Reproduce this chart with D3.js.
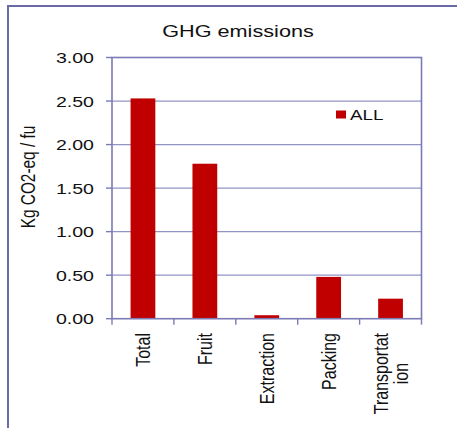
<!DOCTYPE html>
<html>
<head>
<meta charset="utf-8">
<script src="https://cdn.jsdelivr.net/npm/d3@7/dist/d3.min.js"></script>
<style>
  html, body { margin: 0; padding: 0; background: #fff; }
  svg { display: block; font-family: "Liberation Sans", Arial, sans-serif; }
</style>
</head>
<body>
<svg id="chart" width="457" height="428"></svg>
<script>
// GHG emissions per functional unit, by life-cycle stage
const categories = ["Total", "Fruit", "Extraction", "Packing", "Transportation"];
const categoryLines = [["Total"], ["Fruit"], ["Extraction"], ["Packing"], ["Transportat", "ion"]];
const valuesAll = [2.53, 1.78, 0.04, 0.48, 0.23];
const yTicks = [0, 0.5, 1.0, 1.5, 2.0, 2.5, 3.0];
const seriesName = "ALL";
const chartTitle = "GHG emissions";
const yTitle = "Kg CO2-eq / fu";

const svg = d3.select("#chart");
const plot = { left: 112, right: 421.5, top: 57.5, bottom: 318.7 };
const sx = 1.3; // horizontal text stretch

const x = d3.scaleBand().domain(categories).range([plot.left, plot.right]).paddingInner(0).paddingOuter(0);
const y = d3.scaleLinear().domain([0, 3]).range([plot.bottom, plot.top]);

// outer frame (left and top edges)
svg.append("path")
  .attr("d", "M8,428 L8,6 L457,6")
  .attr("fill", "none").attr("stroke", "#6a6aa6").attr("stroke-width", 2);

// gridlines
svg.append("g").selectAll("line").data(yTicks.filter(t => t > 0 && t < 3)).join("line")
  .attr("x1", plot.left).attr("x2", plot.right)
  .attr("y1", d => y(d)).attr("y2", d => y(d))
  .attr("stroke", "#9393c6").attr("stroke-width", 1.3);

// bars
const barW = x.bandwidth() * 0.4;
svg.append("g").selectAll("rect").data(categories).join("rect")
  .attr("x", d => x(d) + (x.bandwidth() - barW) / 2)
  .attr("width", barW)
  .attr("y", (d, i) => y(valuesAll[i]))
  .attr("height", (d, i) => y(0) - y(valuesAll[i]))
  .attr("fill", "#c00000");

// plot frame
svg.append("rect")
  .attr("x", plot.left).attr("y", plot.top)
  .attr("width", plot.right - plot.left).attr("height", plot.bottom - plot.top)
  .attr("fill", "none").attr("stroke", "#7b7bb6").attr("stroke-width", 1.6);

// y axis ticks and labels
const yAxis = svg.append("g");
yAxis.selectAll("line").data(yTicks).join("line")
  .attr("x1", plot.left - 6).attr("x2", plot.left)
  .attr("y1", d => y(d)).attr("y2", d => y(d))
  .attr("stroke", "#7b7bb6").attr("stroke-width", 1.4);
yAxis.selectAll("text").data(yTicks).join("text")
  .attr("transform", d => `translate(94,${y(d)}) scale(${1.27},1)`)
  .attr("dy", "0.36em")
  .attr("text-anchor", "end")
  .attr("font-size", 15.4)
  .attr("fill", "#111")
  .text(d3.format(".2f"));

// x axis ticks at category boundaries
const bounds = categories.map(c => x(c)).concat([plot.right]);
svg.append("g").selectAll("line").data(bounds).join("line")
  .attr("x1", d => d).attr("x2", d => d)
  .attr("y1", plot.bottom).attr("y2", plot.bottom + 6)
  .attr("stroke", "#7b7bb6").attr("stroke-width", 1.4);

// rotated category labels
const lineStep = 15.5;
const xLab = svg.append("g");
categoryLines.forEach((lines, i) => {
  const cx = x(categories[i]) + x.bandwidth() / 2;
  const g = xLab.append("g");
  const texts = lines.map((ln, j) => g.append("text")
    .attr("text-anchor", "middle")
    .attr("font-size", 16)
    .attr("fill", "#111")
    .attr("y", (j - (lines.length - 1) / 2) * lineStep)
    .attr("dy", "0.35em")
    .text(ln));
  const maxLen = d3.max(texts, t => t.node().getComputedTextLength());
  g.attr("transform", `translate(${cx},${333 + maxLen / 2}) scale(${sx},1) rotate(-90)`);
});

// y axis title
svg.append("text")
  .attr("transform", `translate(28,177) scale(${sx},1) rotate(-90)`)
  .attr("text-anchor", "middle")
  .attr("dy", "0.35em")
  .attr("font-size", 15.4)
  .attr("fill", "#111")
  .text(yTitle);

// chart title
svg.append("text")
  .attr("transform", `translate(238,37) scale(1.33,1)`)
  .attr("text-anchor", "middle")
  .attr("font-size", 16.3)
  .attr("fill", "#111")
  .text(chartTitle);

// legend
const legend = svg.append("g");
legend.append("rect")
  .attr("x", 336).attr("y", 110.5).attr("width", 10).attr("height", 8)
  .attr("fill", "#c00000");
legend.append("text")
  .attr("transform", `translate(350,120) scale(1.22,1)`)
  .attr("font-size", 15.4)
  .attr("fill", "#111")
  .text(seriesName);
</script>
</body>
</html>
